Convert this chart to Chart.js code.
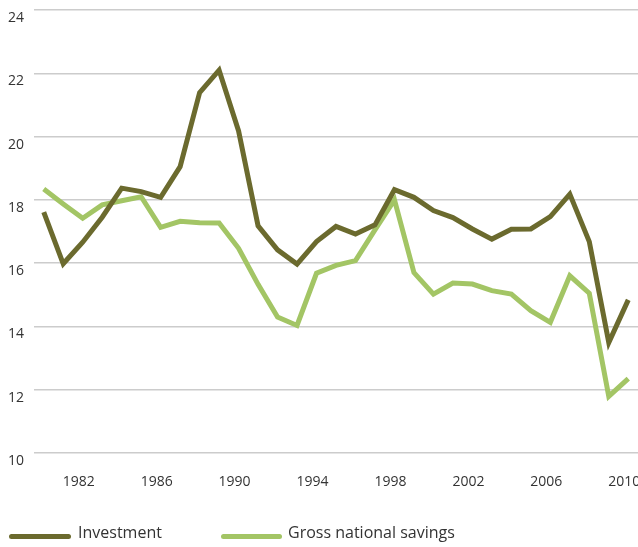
<!DOCTYPE html>
<html>
<head>
<meta charset="utf-8">
<script src="https://cdn.jsdelivr.net/npm/chart.js@4/dist/chart.umd.min.js"></script>
<style>
  html, body { margin: 0; padding: 0; background: #fff; }
  #wrap { position: relative; width: 638px; height: 547px; }
  canvas { position: absolute; left: 0; top: 0; }
  .lg-line { position: absolute; height: 5px; border-radius: 2.5px; }
  .lg-text { position: absolute; font-family: "Open Sans", sans-serif; font-size: 16px; line-height: 20px; color: #333; white-space: nowrap; }
</style>
</head>
<body>
<div id="wrap">
  <canvas id="c" width="638" height="547"></canvas>
  <div class="lg-line" style="left:9px; top:534px; width:62px; background:#6b6a2e;"></div>
  <div class="lg-text" id="lg1" style="left:78px; top:522px;"></div>
  <div class="lg-line" style="left:221px; top:534px; width:61px; background:#a3c565;"></div>
  <div class="lg-text" id="lg2" style="left:288px; top:522px;"></div>
</div>
<script>
const years = [1980,1981,1982,1983,1984,1985,1986,1987,1988,1989,1990,1991,1992,1993,1994,1995,1996,1997,1998,1999,2000,2001,2002,2003,2004,2005,2006,2007,2008,2009,2010];
const investment = [17.61,15.98,16.66,17.45,18.37,18.26,18.08,19.05,21.39,22.1,20.18,17.18,16.42,15.97,16.68,17.16,16.92,17.21,18.32,18.08,17.66,17.44,17.08,16.76,17.07,17.08,17.47,18.18,16.68,13.49,14.84];
const savings = [18.34,17.87,17.42,17.84,17.97,18.1,17.13,17.32,17.28,17.27,16.47,15.33,14.3,14.03,15.68,15.93,16.08,17.05,18.0,15.7,15.02,15.37,15.34,15.13,15.02,14.5,14.13,15.6,15.05,11.79,12.35];
const xTickYears = [1982,1986,1990,1994,1998,2002,2006,2010];
const yTicks = [10,12,14,16,18,20,22,24];
const seriesNames = ["Investment","Gross national savings"];

document.getElementById('lg1').textContent = seriesNames[0];
document.getElementById('lg2').textContent = seriesNames[1];

const tickFont = { family: "'Open Sans', sans-serif", size: 14 };

new Chart(document.getElementById('c'), {
  type: 'line',
  data: {
    datasets: [
      { label: seriesNames[0], data: years.map((y,i)=>({x:y, y:investment[i]})), borderColor: '#6b6a2e', borderWidth: 5, pointRadius: 0, tension: 0, fill: false },
      { label: seriesNames[1], data: years.map((y,i)=>({x:y, y:savings[i]})), borderColor: '#a3c565', borderWidth: 5, pointRadius: 0, tension: 0, fill: false }
    ]
  },
  options: {
    responsive: false,
    animation: false,
    layout: { padding: { left: 0, right: 0, top: 10, bottom: 60 } },
    plugins: { legend: { display: false }, tooltip: { enabled: false } },
    scales: {
      x: {
        type: 'linear', min: 1979.5, max: 2010.5,
        grid: { display: false, drawTicks: false },
        border: { display: false },
        afterBuildTicks: s => { s.ticks = xTickYears.map(v => ({ value: v })); },
        afterFit: s => { s.height = 34; s.paddingLeft = 0; s.paddingRight = 0; },
        ticks: { color: '#333', font: tickFont, padding: 21, labelOffset: -4, maxRotation: 0, autoSkip: false, callback: v => String(v) }
      },
      y: {
        min: 10, max: 24,
        grid: { color: '#cccccc', lineWidth: 1.5, drawTicks: false },
        border: { display: false },
        afterBuildTicks: s => { s.ticks = yTicks.map(v => ({ value: v })); },
        afterFit: s => { s.width = 34; s.paddingTop = 0; s.paddingBottom = 0; },
        ticks: { color: '#333', font: tickFont, padding: 10, labelOffset: 8, callback: v => String(v) }
      }
    }
  }
});
</script>
</body>
</html>
